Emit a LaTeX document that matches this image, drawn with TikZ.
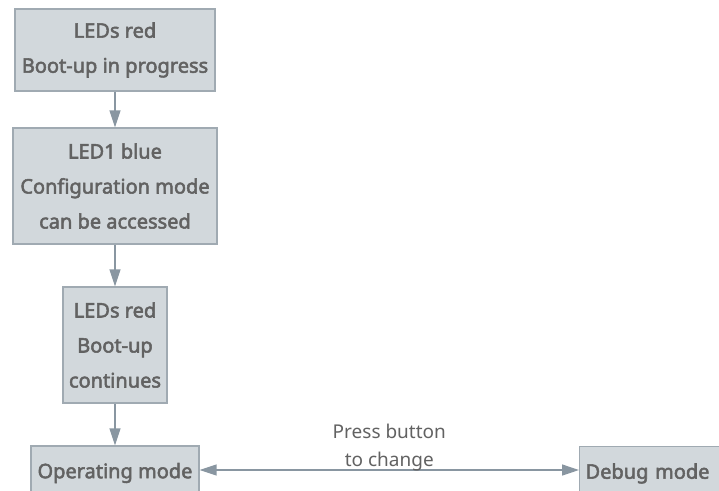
\documentclass[tikz,border=0pt]{standalone}
\usepackage{fontspec}
\setmainfont{Noto Sans}[BoldFont={Noto Sans}, BoldFeatures={FakeBold=2.6}]
\usetikzlibrary{arrows.meta}
\definecolor{boxfill}{RGB}{210,216,220}
\definecolor{boxline}{RGB}{160,170,178}
\definecolor{arrowc}{RGB}{137,150,161}
\definecolor{txt}{RGB}{98,98,98}
\tikzset{
  box/.style={draw=boxline, fill=boxfill, line width=1.2pt, text=txt,
    font=\fontsize{20}{35}\selectfont\bfseries, align=center, inner sep=0pt},
  conn/.style={draw=arrowc, line width=1.3pt, -{Triangle[length=17pt,width=11pt]}},
  conn2/.style={draw=arrowc, line width=1.3pt, {Triangle[length=17pt,width=11pt]}-{Triangle[length=17pt,width=11pt]}},
  lbl/.style={text=txt, font=\fontsize{19}{28}\selectfont, align=center, inner sep=2pt}
}
\begin{document}
\begin{tikzpicture}[x=1pt,y=-1pt]
\useasboundingbox (0,0) rectangle (719,490);
\clip (0,0) rectangle (719,490);
\node[box, minimum width=200, minimum height=82] (b1) at (115,50) {LEDs red\\Boot-up in progress};
\node[box, minimum width=204, minimum height=116] (b2) at (115,186) {LED1 blue\\Configuration mode\\can be accessed};
\node[box, minimum width=104, minimum height=116] (b3) at (115,345) {LEDs red\\Boot-up\\continues};
\node[box, minimum width=168, minimum height=54] (b4) at (115,473) {Operating mode};
\node[box, anchor=west, minimum height=54, text width=150pt, align=left, inner xsep=6pt] (b5) at (579,473.5) {Debug mode};
\draw[conn] (b1) -- (b2);
\draw[conn] (b2) -- (b3);
\draw[conn] (b3) -- (b4.north);
\draw[conn2] (b4.east |- 0,470) coordinate (p) -- (b5.west |- p) node[lbl, midway, above=-3.5pt] (l) {Press button\\to change};
\end{tikzpicture}
\end{document}
